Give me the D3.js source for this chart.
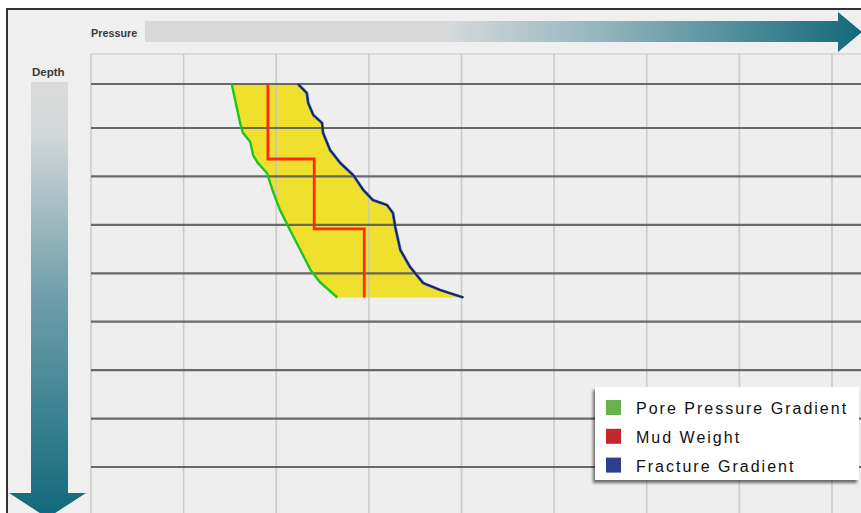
<!DOCTYPE html>
<html>
<head>
<meta charset="utf-8">
<script src="https://cdn.jsdelivr.net/npm/d3@7"></script>
<style>
  html, body { margin: 0; padding: 0; background: #ffffff; }
  svg { display: block; }
</style>
</head>
<body>
<svg id="chart" width="861" height="513"></svg>
<script>
// ---------- data ----------
const pressureTicks = [0, 1000, 2000, 3000, 4000, 5000, 6000, 7000, 8000, 9000];
const depthTicks = [0, 1000, 2000, 3000, 4000, 5000, 6000, 7000, 8000, 9000];

const poreDepth =    [0, 300, 590, 890, 1100, 1290, 1560, 1720, 1930, 2340, 2690, 3110, 3520, 3930, 4180, 4500];
const porePressure = [1520, 1550, 1580, 1610, 1640, 1720, 1750, 1800, 1900, 1970, 2040, 2150, 2260, 2370, 2470, 2660];

const fracDepth =    [0, 205, 430, 705, 886, 1100, 1450, 1720, 1970, 2280, 2490, 2590, 2755, 3045, 3520, 3870, 4200, 4345, 4500];
const fracPressure = [2235, 2330, 2345, 2400, 2495, 2505, 2580, 2690, 2830, 2940, 3045, 3195, 3260, 3285, 3340, 3445, 3585, 3770, 4020];

const mudDepth =    [0, 1640, 1640, 3085, 3085, 4500];
const mudPressure = [1910, 1910, 2410, 2410, 2950, 2950];

const legendLabels = ["Pore Pressure Gradient", "Mud Weight", "Fracture Gradient"];
const legendColors = ["#6ab04c", "#c0282d", "#2e3f8f"];

// ---------- setup ----------
const svg = d3.select("#chart");
const defs = svg.append("defs");

const x = d3.scaleLinear().domain([0, 8000]).range([91, 832]);
const y = d3.scaleLinear().domain([0, 1000, 8000]).range([84, 128, 467]);

// gradients
const gH = defs.append("linearGradient").attr("id", "gH")
  .attr("gradientUnits", "userSpaceOnUse").attr("x1", 145).attr("x2", 861).attr("y1", 0).attr("y2", 0);
gH.append("stop").attr("offset", 0).attr("stop-color", "#d9d9d9");
gH.append("stop").attr("offset", 0.42).attr("stop-color", "#d7d9da");
gH.append("stop").attr("offset", 0.65).attr("stop-color", "#8fb3bb");
gH.append("stop").attr("offset", 1).attr("stop-color", "#12697b");

const gV = defs.append("linearGradient").attr("id", "gV")
  .attr("gradientUnits", "userSpaceOnUse").attr("x1", 0).attr("x2", 0).attr("y1", 82).attr("y2", 515);
gV.append("stop").attr("offset", 0).attr("stop-color", "#dadada");
gV.append("stop").attr("offset", 0.12).attr("stop-color", "#d3d7d8");
gV.append("stop").attr("offset", 0.5).attr("stop-color", "#6d9eaa");
gV.append("stop").attr("offset", 1).attr("stop-color", "#12697b");

const sh = defs.append("filter").attr("id", "shadow").attr("x", "-10%").attr("y", "-10%").attr("width", "120%").attr("height", "130%");
sh.append("feDropShadow").attr("dx", -2).attr("dy", 3).attr("stdDeviation", 1.8)
  .attr("flood-color", "#000").attr("flood-opacity", 0.55);

// frame
svg.append("rect").attr("x", 7).attr("y", 9).attr("width", 900).attr("height", 600)
  .attr("fill", "#efefef").attr("stroke", "#333").attr("stroke-width", 2);

// plot background
svg.append("rect").attr("x", x(0)).attr("y", 54).attr("width", 861 - x(0)).attr("height", 513 - 54)
  .attr("fill", "#eeeeee");

// ---------- fill between pore and fracture ----------
const poreData = poreDepth.map((d, i) => ({ d, p: porePressure[i] }));
const fracData = fracDepth.map((d, i) => ({ d, p: fracPressure[i] }));
const mudData = mudDepth.map((d, i) => ({ d, p: mudPressure[i] }));

const line = d3.line().x(v => x(v.p)).y(v => y(v.d));
const poly = poreData.concat(fracData.slice().reverse());
svg.append("path").attr("d", line(poly) + "Z").attr("fill", "#eee02c");

// ---------- grid ----------
const grid = svg.append("g");
grid.append("line").attr("x1", x(0)).attr("x2", 861).attr("y1", 54).attr("y2", 54)
  .attr("stroke", "#d4d4d4").attr("stroke-width", 1.5);
grid.selectAll("line.v").data(pressureTicks).join("line").attr("class", "v")
  .attr("x1", d => x(d)).attr("x2", d => x(d)).attr("y1", 54).attr("y2", 513)
  .attr("stroke", "#c4c4c4").attr("stroke-width", 1.6).attr("stroke-opacity", 0.85);
grid.selectAll("line.h").data(depthTicks).join("line").attr("class", "h")
  .attr("x1", x(0)).attr("x2", 861).attr("y1", d => y(d)).attr("y2", d => y(d))
  .attr("stroke", "#5a5a5a").attr("stroke-width", 2.2).attr("stroke-opacity", 0.9);

// ---------- series lines ----------
svg.append("path").attr("d", line(poreData)).attr("fill", "none")
  .attr("stroke", "#1fc41f").attr("stroke-width", 2.4).attr("stroke-linejoin", "round");
svg.append("path").attr("d", line(fracData)).attr("fill", "none")
  .attr("stroke", "#2a4fd0").attr("stroke-width", 2.8).attr("stroke-linejoin", "round");
svg.append("path").attr("d", line(fracData)).attr("fill", "none")
  .attr("stroke", "#1a2440").attr("stroke-width", 1.4).attr("stroke-linejoin", "round");
svg.append("path").attr("d", line(mudData)).attr("fill", "none")
  .attr("stroke", "#ff2a0c").attr("stroke-width", 2.8);

// ---------- axis arrows ----------
svg.append("path")
  .attr("d", "M145,21 L838,21 L838,12 L862,32 L838,52 L838,42 L145,42 Z")
  .attr("fill", "url(#gH)");
svg.append("path")
  .attr("d", "M31,82 L68,82 L68,493 L86,493 L47.5,518 L9,493 L31,493 Z")
  .attr("fill", "url(#gV)");

svg.append("text").attr("x", 91).attr("y", 36.5).text("Pressure")
  .attr("font-family", "Liberation Sans, Arial, sans-serif").attr("font-size", 10.8).attr("font-weight", "bold")
  .attr("fill", "#3a3a3a");
svg.append("text").attr("x", 32).attr("y", 76).text("Depth")
  .attr("font-family", "Liberation Sans, Arial, sans-serif").attr("font-size", 11.5).attr("font-weight", "bold")
  .attr("fill", "#3a3a3a");

// ---------- legend ----------
const lg = svg.append("g");
lg.append("rect").attr("x", 595).attr("y", 387).attr("width", 264).attr("height", 93)
  .attr("fill", "#ffffff").attr("filter", "url(#shadow)");
const items = lg.selectAll("g.item").data(legendLabels).join("g").attr("class", "item")
  .attr("transform", (d, i) => `translate(606, ${400 + i * 28.8})`);
items.append("rect").attr("width", 15).attr("height", 15)
  .attr("fill", (d, i) => legendColors[i]);
items.append("text").attr("x", 30).attr("y", 14).text(d => d)
  .attr("font-family", "Liberation Sans, Arial, sans-serif").attr("font-size", 16)
  .attr("letter-spacing", "2px").attr("fill", "#111");
</script>
</body>
</html>
